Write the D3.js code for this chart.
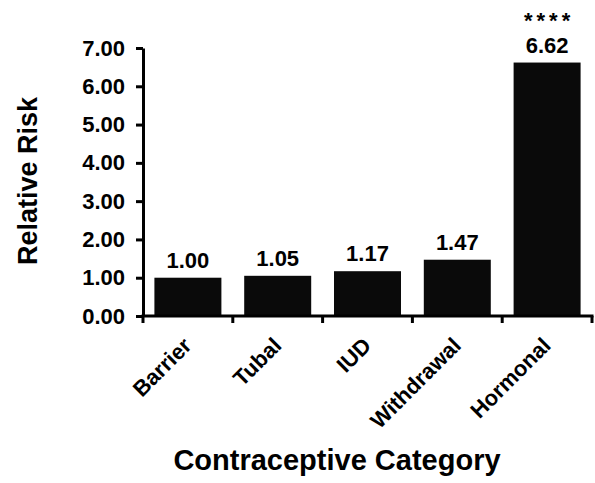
<!DOCTYPE html>
<html>
<head>
<meta charset="utf-8">
<script src="https://cdn.jsdelivr.net/npm/d3@7"></script>
<style>
  html, body { margin: 0; padding: 0; background: #fff; }
  svg { display: block; }
  text { font-family: "Liberation Sans", Arial, sans-serif; font-weight: bold; fill: #000; }
</style>
</head>
<body>
<div id="chart"></div>
<script>
const categories = ["Barrier", "Tubal", "IUD", "Withdrawal", "Hormonal"];
const values = [1.00, 1.05, 1.17, 1.47, 6.62];
const valueLabels = ["1.00", "1.05", "1.17", "1.47", "6.62"];
const significance = ["", "", "", "", "****"];
const yTicks = [0, 1, 2, 3, 4, 5, 6, 7];
const yTitle = "Relative Risk";
const xTitle = "Contraceptive Category";

const W = 595, H = 483;
const svg = d3.select("#chart").append("svg").attr("width", W).attr("height", H);

const x = d3.scaleBand().domain(categories).range([143, 592]).paddingInner(0.254).paddingOuter(0.127);
const y = d3.scaleLinear().domain([0, 7]).range([316, 48]);

// bars
svg.append("g").selectAll("rect").data(categories).join("rect")
  .attr("x", d => x(d))
  .attr("y", (d, i) => y(values[i]))
  .attr("width", x.bandwidth())
  .attr("height", (d, i) => y(0) - y(values[i]))
  .attr("fill", "#0a0a0a");

// value labels
svg.append("g").selectAll("text").data(categories).join("text")
  .attr("x", d => x(d) + x.bandwidth() / 2)
  .attr("y", (d, i) => y(values[i]) - 10)
  .attr("text-anchor", "middle")
  .attr("font-size", 22)
  .text((d, i) => valueLabels[i]);

// significance
svg.append("g").selectAll("text").data(categories).join("text")
  .attr("x", d => x(d) + x.bandwidth() / 2 + 2)
  .attr("y", (d, i) => y(values[i]) - 35)
  .attr("text-anchor", "middle")
  .attr("font-size", 22)
  .attr("letter-spacing", 4)
  .text((d, i) => significance[i]);

// y axis
const yAxis = svg.append("g").attr("transform", "translate(143,0)")
  .call(d3.axisLeft(y).tickValues(yTicks).tickFormat(d3.format(".2f")).tickSize(7).tickSizeOuter(0).tickPadding(11));
yAxis.select(".domain").attr("stroke", "#000").attr("stroke-width", 3);
yAxis.selectAll(".tick line").attr("stroke", "#000").attr("stroke-width", 3);
yAxis.selectAll(".tick text").attr("font-size", 22).attr("font-family", "Liberation Sans, Arial, sans-serif").attr("font-weight", "bold").attr("fill", "#000");

// x axis line
const x0 = x.range()[0], x1 = x.range()[1];
svg.append("line").attr("x1", x0 - 1.5).attr("x2", x1 + 1.5).attr("y1", y(0)).attr("y2", y(0))
  .attr("stroke", "#000").attr("stroke-width", 3);
// x ticks at category boundaries
const boundaries = [x0].concat(categories.map(c => x(c) + x.bandwidth() / 2 + x.step() / 2));
svg.append("g").selectAll("line").data(boundaries).join("line")
  .attr("x1", d => d).attr("x2", d => d)
  .attr("y1", y(0)).attr("y2", y(0) + 7)
  .attr("stroke", "#000").attr("stroke-width", 3);

// x category labels
svg.append("g").selectAll("text").data(categories).join("text")
  .attr("transform", d => `translate(${x(d) + x.bandwidth() / 2 + 5},347) rotate(-45)`)
  .attr("text-anchor", "end")
  .attr("font-size", 22)
  .text(d => d);

// titles
svg.append("text")
  .attr("transform", "translate(37,181) rotate(-90)")
  .attr("text-anchor", "middle")
  .attr("font-size", 27)
  .text(yTitle);

svg.append("text")
  .attr("x", 337).attr("y", 470)
  .attr("text-anchor", "middle")
  .attr("font-size", 29)
  .text(xTitle);
</script>
</body>
</html>
